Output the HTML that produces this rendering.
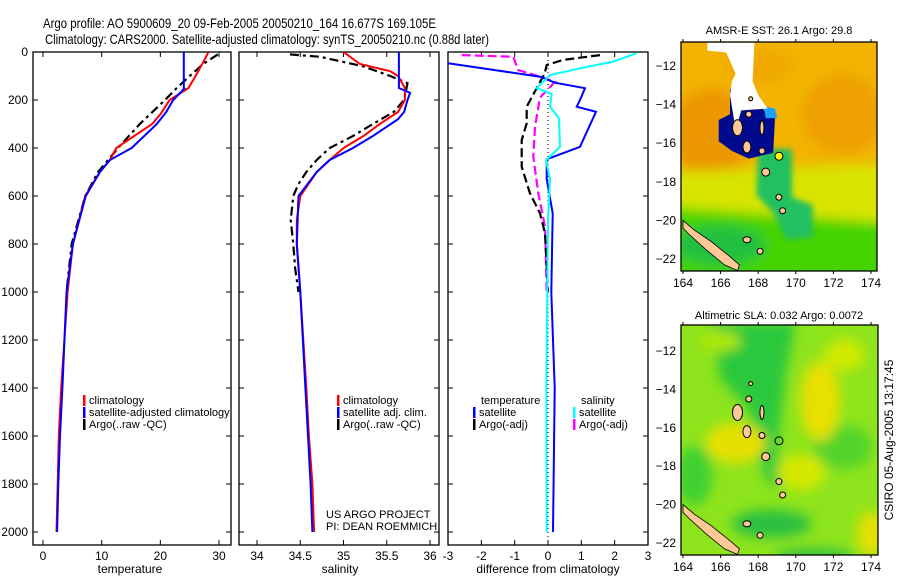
<!DOCTYPE html>
<html><head><meta charset="utf-8">
<style>
html,body{margin:0;padding:0;background:#fff;}
svg{display:block;font-family:"Liberation Sans",Arial,sans-serif;}
</style></head>
<body>
<svg id="fig" width="900" height="580" viewBox="0 0 900 580" xmlns="http://www.w3.org/2000/svg">
<defs>
<filter id="blur" x="-20%" y="-20%" width="140%" height="140%"><feGaussianBlur stdDeviation="6"/></filter>
<filter id="blur2" x="-20%" y="-20%" width="140%" height="140%"><feGaussianBlur stdDeviation="3"/></filter>
<clipPath id="c1"><rect x="33" y="52" width="198" height="493"/></clipPath>
<clipPath id="c2"><rect x="239" y="52" width="200" height="493"/></clipPath>
<clipPath id="c3"><rect x="448" y="52" width="200" height="493"/></clipPath>
<clipPath id="m1"><rect x="681" y="42" width="196" height="229"/></clipPath>
<clipPath id="m2"><rect x="681" y="325" width="197" height="230"/></clipPath>
</defs>
<text x="43" y="28" font-size="14" textLength="393" lengthAdjust="spacingAndGlyphs">Argo profile: AO 5900609_20 09-Feb-2005 20050210_164 16.677S 169.105E</text>
<text x="45" y="44" font-size="14" textLength="444" lengthAdjust="spacingAndGlyphs">Climatology: CARS2000. Satellite-adjusted climatology: synTS_20050210.nc (0.88d later)</text>
<g id="plots"></g>
<g id="maps"></g>
<text transform="translate(893,440) rotate(-90)" text-anchor="middle" font-size="12">CSIRO 05-Aug-2005 13:17:45</text>
</svg>
<script>
// ---- data (depth in dbar, values) ----
const tempClimDepth = [0,30,100,150,200,260,300,400,450,500,600,800,1000,1400,1600,1800,2000];
const tempClimVal   = [28.2,27.6,26.0,24.8,21.6,20.0,18.6,12.5,11.4,9.7,7.2,5.1,4.2,3.1,2.7,2.5,2.3];
const tempSatDepth  = [0,150,152,200,250,300,400,450,500,600,800,1000,1400,1600,1800,2000];
const tempSatVal    = [24.0,24.0,24.1,22.2,21.0,19.4,15.1,11.4,9.7,7.3,5.1,4.0,3.3,2.9,2.6,2.4];
const tempArgoDepth = [10,50,100,150,200,300,400,500,600,800,1000];
const tempArgoVal   = [29.8,27.3,25.0,22.8,20.8,16.5,12.8,9.4,7.2,4.9,4.0];

const salClimDepth = [0,50,80,100,150,200,250,300,350,400,450,500,600,700,800,1000,1400,1600,1800,2000];
const salClimVal   = [35.0,35.19,35.54,35.63,35.71,35.71,35.63,35.42,35.23,35.0,34.84,34.69,34.5,34.46,34.46,34.5,34.57,34.6,34.64,34.66];
const salSatDepth  = [0,150,170,200,250,280,350,400,450,500,600,800,1000,1400,1600,1800,2000];
const salSatVal    = [35.64,35.64,35.77,35.74,35.7,35.63,35.34,35.11,34.84,34.69,34.48,34.46,34.5,34.56,34.59,34.62,34.64];
const salArgoDepth = [10,20,60,100,130,200,250,300,350,400,450,500,550,600,700,800,900,1000];
const salArgoVal   = [34.38,34.73,35.23,35.54,35.74,35.7,35.58,35.34,35.11,34.84,34.69,34.57,34.48,34.42,34.39,34.42,34.44,34.48];

const dTempSatDepth = [0,47,103,128,151,200,228,249,395,447,530,672,1000,1400,2000];
const dTempSatVal   = [-4.2,-3,-0.24,0.21,1.11,0.96,0.86,1.44,0.96,-0.04,-0.04,0.14,0.1,0.2,0.15];
const dSalSatDepth  = [5,40,68,96,151,174,228,277,395,452,530,700,1000,1400,2000];
const dSalSatVal    = [2.66,1.96,0.96,0.06,-0.34,0.11,0.06,0.33,0.36,-0.06,0.06,0.0,-0.02,-0.05,-0.04];
const dTempArgoDepth= [13,33,54,89,179,228,297,367,478,589,672,755,1000];
const dTempArgoVal  = [1.56,0.46,-0.04,-0.1,-0.45,-0.64,-0.64,-0.79,-0.79,-0.54,-0.24,-0.09,0.0];
const dSalArgoDepth = [13,20,75,103,124,190,311,436,589,728,1000];
const dSalArgoVal   = [-2.59,-1.04,-0.9,-0.24,0.21,-0.24,-0.39,-0.44,-0.29,-0.09,-0.04];

const depthTicks = [0,200,400,600,800,1000,1200,1400,1600,1800,2000];
const tempTicks = [0,10,20,30];
const salTicks = [34,34.5,35,35.5,36];
const diffTicks = [-3,-2,-1,0,1,2,3];
const latTicks = [-12,-14,-16,-18,-20,-22];
const lonTicks = [164,166,168,170,172,174];

const NS="http://www.w3.org/2000/svg";
function mk(tag,attrs,parent){const e=document.createElementNS(NS,tag);for(const k in attrs)e.setAttribute(k,attrs[k]);parent.appendChild(e);return e;}
const yD = d => 52 + d*0.24;
const xT = t => 43 + t*5.867;
const xS = s => 257 + (s-34)*86.5;
const xDf = v => 548 + v*33.33;

const plots=document.getElementById('plots');

function panel(name,x0,x1,xf,ticks,label,labelText,clip,showY){
  const g=mk('g',{},plots);
  
  
  const fr=mk('rect',{x:x0,y:52,width:x1-x0,height:493,fill:'none',stroke:'#000','stroke-width':1.3},g);
  
  
  depthTicks.forEach(d=>{
    mk('line',{x1:x0,x2:x0+5,y1:yD(d),y2:yD(d),stroke:'#000'},g);
    mk('line',{x1:x1-5,x2:x1,y1:yD(d),y2:yD(d),stroke:'#000'},g);
    if(showY){const t=mk('text',{x:28,y:yD(d)+4,'font-size':12,'text-anchor':'end'},g);t.textContent=d;
      
      }
  });
  ticks.forEach(v=>{
    const x=xf(v);
    mk('line',{x1:x,x2:x,y1:545,y2:540,stroke:'#000'},g);
    mk('line',{x1:x,x2:x,y1:52,y2:57,stroke:'#000'},g);
    const t=mk('text',{x:x,y:560,'font-size':12,'text-anchor':'middle'},g);t.textContent=v;
    
    
  });
  const lt=mk('text',{x:label,y:573,'font-size':12,'text-anchor':'middle'},g);lt.textContent=labelText;
  
  
  return mk('g',{'clip-path':'url(#'+clip+')'},g);
}
function line(g,name,ds,vs,xf,color,w,dash){
  const pts=ds.map((d,i)=>xf(vs[i]).toFixed(1)+','+yD(d).toFixed(1)).join(' ');
  const p=mk('polyline',{points:pts,fill:'none',stroke:color,'stroke-width':w},g);
  if(dash)p.setAttribute('stroke-dasharray',dash);
  
  
}
function legend(parent,x,y,items){
  items.forEach((it,i)=>{
    const yy=y+i*12;
    mk('rect',{x:x,y:yy-9,width:2.5,height:11,fill:it[1]},parent);
    if(it[0]){const t=mk('text',{x:x+6,y:yy,'font-size':11},parent);t.textContent=it[0];
      
      }
  });
}

const g1=panel('temperature-panel',33,231,xT,tempTicks,130,'temperature','c1',true);
line(g1,'temp-argo-line',tempArgoDepth,tempArgoVal,xT,'#000',2.2,'9,4,3,4');
line(g1,'temp-climatology-line',tempClimDepth,tempClimVal,xT,'#f00',2);
line(g1,'temp-satellite-line',tempSatDepth,tempSatVal,xT,'#00f',2);
legend(plots,83,404,[['climatology','#f00'],['satellite-adjusted climatology','#00f'],['Argo(..raw -QC)','#000']]);

const g2=panel('salinity-panel',239,439,xS,salTicks,340,'salinity','c2',false);
line(g2,'sal-argo-line',salArgoDepth,salArgoVal,xS,'#000',2.2,'9,4,3,4');
line(g2,'sal-climatology-line',salClimDepth,salClimVal,xS,'#f00',2);
line(g2,'sal-satellite-line',salSatDepth,salSatVal,xS,'#00f',2);
legend(plots,337,404,[['climatology','#f00'],['satellite adj. clim.','#00f'],['Argo(..raw -QC)','#000']]);
const pr=mk('text',{x:326,y:518,'font-size':11},plots);pr.textContent='US ARGO PROJECT';


const pi=mk('text',{x:326,y:530,'font-size':11},plots);pi.textContent='PI: DEAN ROEMMICH';



const g3=panel('difference-panel',448,648,xDf,diffTicks,548,'difference from climatology','c3',false);
mk('line',{x1:xDf(0),x2:xDf(0),y1:52,y2:545,stroke:'#000','stroke-dasharray':'1,3'},g3);
line(g3,'dsal-argo-line',dSalArgoDepth,dSalArgoVal,xDf,'#f0f',2.2,'9,4');
line(g3,'dtemp-argo-line',dTempArgoDepth,dTempArgoVal,xDf,'#000',2.2,'9,4');
line(g3,'dtemp-satellite-line',dTempSatDepth,dTempSatVal,xDf,'#00f',2);
line(g3,'dsal-satellite-line',dSalSatDepth,dSalSatVal,xDf,'#0ff',2);
const tl=mk('text',{x:481,y:404,'font-size':11},plots);tl.textContent='temperature';
legend(plots,473,416,[['satellite','#00f'],['Argo(-adj)','#000']]);
const sl=mk('text',{x:581,y:404,'font-size':11},plots);sl.textContent='salinity';
legend(plots,573,416,[['satellite','#0ff'],['Argo(-adj)','#f0f']]);

// ---- maps ----
const maps=document.getElementById('maps');
const mx = lon => 683 + (lon-164)*18.8;
const my1 = lat => 66 + (-12-lat)*19.3;
const my2 = lat => 351 + (-12-lat)*19.2;
function poly(g,pts,my,attrs){
  const s=pts.map(p=>mx(p[0]).toFixed(1)+','+my(p[1]).toFixed(1)).join(' ');
  const a=Object.assign({points:s},attrs);return mk('polygon',a,g);
}
function ell(g,lon,lat,rx,ry,my,fill,filt){
  const a={cx:mx(lon),cy:my(lat),rx:rx,ry:ry,fill:fill};if(filt)a.filter=filt;return mk('ellipse',a,g);
}
const island=[[164,-20],[164.6,-20.5],[165.5,-21.1],[166.4,-21.8],[167,-22.3],[166.9,-22.6],[166.2,-22.3],[165.2,-21.5],[164.3,-20.7],[164,-20.4]];
const smallIsl=[[166.9,-15.2,5,8],[167.4,-16.2,4,6],[168.2,-16.4,3,3],[168.4,-17.5,4,4],[169.1,-18.8,3,3],[169.3,-19.5,3,3],[167.4,-21,4,3],[168.1,-21.6,3,3],[167.5,-14.5,3,3],[168.2,-15.2,2,7],[167.6,-13.7,2,2]];

function mapFrame(name,y0,h,my,title,ty){
  const g=mk('g',{},maps);
  
  
  const t=mk('text',{x:779,y:ty,'font-size':11,'text-anchor':'middle'},g);t.textContent=title;
  
  
  latTicks.forEach(l=>{const y=my(l);
    mk('line',{x1:681,x2:684,y1:y,y2:y,stroke:'#000'},g);mk('line',{x1:874,x2:877,y1:y,y2:y,stroke:'#000'},g);
    const tt=mk('text',{x:676,y:y+4,'font-size':12,'text-anchor':'end'},g);tt.textContent=String(l).replace('-','\u2212');
    
    });
  lonTicks.forEach(l=>{const x=mx(l);
    mk('line',{x1:x,x2:x,y1:y0+h,y2:y0+h+3,stroke:'#000'},g);mk('line',{x1:x,x2:x,y1:y0,y2:y0-3,stroke:'#000'},g);
    const tt=mk('text',{x:x,y:y0+h+16,'font-size':12,'text-anchor':'middle'},g);tt.textContent=l;
    
    });
  return g;
}

// top map
const gm1=mapFrame('sst-map',42,229,my1,'AMSR-E SST: 26.1 Argo: 29.8',34);
const c1=mk('g',{'clip-path':'url(#m1)'},gm1);
mk('rect',{x:681,y:42,width:196,height:229,fill:'#f2b400'},c1);
const fb=mk('g',{filter:'url(#blur)'},c1);
ell(fb,165.5,-15.5,40,45,my1,'#ec9600');
ell(fb,172.5,-14.5,40,40,my1,'#eea000');
ell(fb,168,-12,35,18,my1,'#f0a800');
poly(fb,[[163,-17.5],[176,-17],[176,-24],[163,-24]],my1,{fill:'#d8e400'});
poly(fb,[[163,-19.3],[176,-20.2],[176,-24],[163,-24]],my1,{fill:'#44d400'});
ell(fb,166,-21.3,45,20,my1,'#20c040');
const fb2=mk('g',{filter:'url(#blur2)'},c1);
poly(fb2,[[168,-16.3],[169.8,-16.3],[169.8,-18.8],[170.9,-19.2],[170.9,-20.9],[169.5,-21],[168.8,-19.6],[167.9,-18.7]],my1,{fill:'#20c060'});
poly(c1,[[166.5,-13.2],[167.8,-13.2],[168.3,-14.3],[168.9,-14.6],[168.8,-16.5],[167.5,-16.8],[166.6,-16.4],[165.9,-15.9],[165.9,-14.8],[166.5,-14.5]],my1,{fill:'#000a8c'});
poly(c1,[[168.3,-14.1],[168.9,-14.2],[169,-14.7],[168.4,-14.7]],my1,{fill:'#1aa0ff'});
poly(c1,[[165.3,-10.8],[167.8,-10.8],[167.7,-12.8],[168,-13.5],[168.5,-14.2],[167.1,-14.3],[166.8,-15.3],[166.5,-13.5],[166.6,-12.8],[166.8,-12.4],[166.3,-11.3],[165.3,-11.2]],my1,{fill:'#fff'});
poly(c1,island,my1,{fill:'#ffc896',stroke:'#000','stroke-width':0.8});
smallIsl.forEach(s=>ell(c1,s[0],s[1],s[2],s[3],my1,'#ffc896').setAttribute('stroke','#000'));
mk('circle',{cx:mx(169.105),cy:my1(-16.677),r:4,fill:'#ff0',stroke:'#000'},c1);
mk('rect',{x:681,y:42,width:196,height:229,fill:'none',stroke:'#000','stroke-width':1.3},gm1);

// bottom map
const gm2=mapFrame('sla-map',325,230,my2,'Altimetric SLA: 0.032 Argo: 0.0072',319);
const c2=mk('g',{'clip-path':'url(#m2)'},gm2);
mk('rect',{x:681,y:325,width:197,height:230,fill:'#8ee41c'},c2);
const fc=mk('g',{filter:'url(#blur)'},c2);
poly(fc,[[165.5,-10.5],[170,-10.5],[169.5,-13],[169,-17],[169.2,-19],[168.6,-19],[167.8,-17],[167.5,-15],[166,-13.5]],my2,{fill:'#2cc83c'});
ell(fc,168.7,-21,40,14,my2,'#2cc040');
ell(fc,164.6,-18.5,18,30,my2,'#40d030');
ell(fc,172.5,-17,30,22,my2,'#52d42c');
ell(fc,171,-22.7,40,8,my2,'#30c040');
ell(fc,166.8,-16.8,30,20,my2,'#e6e000');
ell(fc,171.3,-14.6,20,40,my2,'#e8e000');
ell(fc,170.3,-18.3,24,18,my2,'#d6e800');
ell(fc,174,-21.5,14,22,my2,'#e6e000');
ell(fc,172.6,-12.2,20,16,my2,'#d0ea00');
ell(fc,166,-11.5,20,10,my2,'#b0e800');
poly(c2,island,my2,{fill:'#ffc896',stroke:'#000','stroke-width':0.8});
smallIsl.forEach(s=>ell(c2,s[0],s[1],s[2],s[3],my2,'#ffc896').setAttribute('stroke','#000'));
mk('circle',{cx:mx(169.105),cy:my2(-16.677),r:4,fill:'none',stroke:'#000'},c2);
mk('rect',{x:681,y:325,width:197,height:230,fill:'none',stroke:'#000','stroke-width':1.3},gm2);
</script>
</body></html>
